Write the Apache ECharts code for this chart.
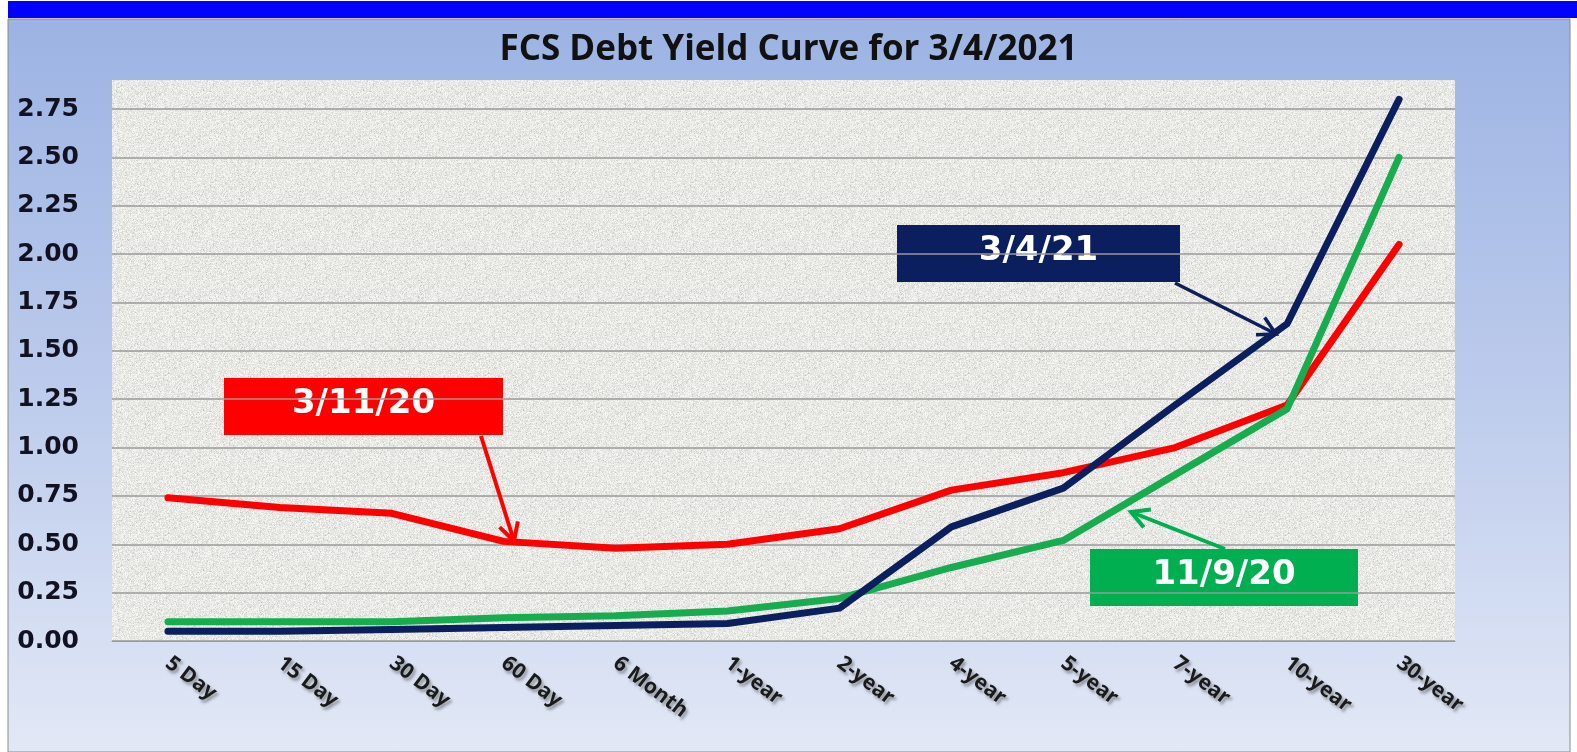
<!DOCTYPE html>
<html><head><meta charset="utf-8">
<script src="https://cdn.jsdelivr.net/npm/echarts@6/dist/echarts.min.js"></script>
<style>html,body{margin:0;padding:0;background:#fff}#c{width:1577px;height:752px}</style>
</head><body><div id="c"></div>
<script>
var categories = ['5 Day','15 Day','30 Day','60 Day','6 Month','1-year','2-year','4-year','5-year','7-year','10-year','30-year'];
var s20311 = [0.74,0.69,0.66,0.515,0.48,0.50,0.58,0.78,0.87,1.00,1.22,2.05];
var s21034 = [0.05,0.05,0.06,0.07,0.08,0.09,0.17,0.59,0.79,1.22,1.64,2.80];
var s20119 = [0.10,0.10,0.10,0.12,0.13,0.155,0.22,0.38,0.52,0.86,1.20,2.50];

var GL=112, GR=1455, GT=80, GB=641;
var tex = document.createElement('canvas'); tex.width=160; tex.height=160;
var tc = tex.getContext('2d'); var img = tc.createImageData(160,160); var seed=12345;
function rnd(){ seed=(seed*1103515245+12345)&0x7fffffff; return seed/0x7fffffff; }
for (var i=0;i<160*160;i++){ var r=rnd(); var v = 234 + Math.floor((r-0.5)*30); if (rnd()<0.08) v-=22;
  img.data[i*4]=v; img.data[i*4+1]=v; img.data[i*4+2]=v-3; img.data[i*4+3]=255; }
tc.putImageData(img,0,0);

function arrow(x1,y1,x2,y2,color,w){
  var a=Math.atan2(y2-y1,x2-x1), L=20, sp=0.5;
  return [{type:'line',z:50,shape:{x1:x1,y1:y1,x2:x2,y2:y2},style:{stroke:color,lineWidth:w}},
    {type:'polyline',z:50,shape:{points:[[x2-L*Math.cos(a-sp),y2-L*Math.sin(a-sp)],[x2,y2],[x2-L*Math.cos(a+sp),y2-L*Math.sin(a+sp)]]},style:{stroke:color,lineWidth:w,fill:null,lineJoin:'miter'}}];
}
function box(x,y,w,h,color,text){
  return {type:'group',z:60,children:[{type:'rect',shape:{x:x,y:y,width:w,height:h},style:{fill:color}},
    {type:'text',style:{x:x+w/2,y:y+h/2-2,text:text,fill:'#fff',font:'bold 34px "DejaVu Sans"',align:'center',verticalAlign:'middle'}}]};
}

var chart = echarts.init(document.getElementById('c'));
var graphics = [
  {type:'rect',z:-10,shape:{x:0,y:0,width:1577,height:752},style:{fill:'#fff'}},
  {type:'rect',z:-9,shape:{x:8,y:19,width:1562,height:733},style:{fill:new echarts.graphic.LinearGradient(0,0,0,1,[{offset:0,color:'#9cb3e3'},{offset:0.5,color:'#bccbec'},{offset:1,color:'#e2e8f6'}]),stroke:'#8a8a8a',lineWidth:1}},
  {type:'rect',z:-8,shape:{x:8,y:1,width:1569,height:17},style:{fill:'#0000ff'}},
  {type:'rect',z:-7,shape:{x:GL,y:GT,width:GR-GL,height:GB-GT},style:{fill:{image:tex,repeat:'repeat'}}},
  box(224,378,279,57,'#ff0000','3/11/20'),
  box(897,225,283,57,'#0b1f5e','3/4/21'),
  box(1090,549,268,57,'#00b050','11/9/20')
].concat(arrow(481,436,514,541,'#ff0000',4))
 .concat(arrow(1175,283,1276,334,'#0b1f5e',3.5))
 .concat(arrow(1225,549,1131,512,'#00b050',4));

chart.setOption({
  animation:false,
  title:{text:'FCS Debt Yield Curve for 3/4/2021',left:'center',top:28,textStyle:{fontFamily:'Open Sans',fontWeight:'bold',fontSize:35,color:'#111'}},
  grid:{left:GL,right:1577-GR,top:GT,bottom:752-GB,containLabel:false},
  graphic:graphics,
  xAxis:{type:'category',data:categories,boundaryGap:true,
    axisLine:{show:true,lineStyle:{color:'#999',width:1}},axisTick:{show:false},
    axisLabel:{rotate:-37,margin:20,fontFamily:'Open Sans',fontWeight:'bold',fontSize:21,color:'#1a1a1a',interval:0,
      textShadowColor:'rgba(0,0,0,0.35)',textShadowBlur:3,textShadowOffsetX:2,textShadowOffsetY:3}},
  yAxis:{type:'value',min:0,max:2.9,interval:0.25,
    axisLine:{show:false},axisTick:{show:false},
    axisLabel:{showMaxLabel:false,margin:33,fontFamily:'DejaVu Sans',fontWeight:'bold',fontSize:25,color:'#111122',formatter:function(v){return v.toFixed(2);}},
    splitLine:{show:true,showMaxLine:false,showMinLine:true,lineStyle:{color:'#9a9a9a',width:1.5}}},
  series:[
    {name:'3/11/20',type:'line',data:s20311,symbol:'none',lineStyle:{color:'#ff0000',width:7,cap:'round',join:'round'},z:3},
    {name:'11/9/20',type:'line',data:s20119,symbol:'none',lineStyle:{color:'#17ad4f',width:7,cap:'round',join:'round'},z:4},
    {name:'3/4/21',type:'line',data:s21034,symbol:'none',lineStyle:{color:'#0b1f5e',width:7,cap:'round',join:'round'},z:5}
  ]
});
</script></body></html>
